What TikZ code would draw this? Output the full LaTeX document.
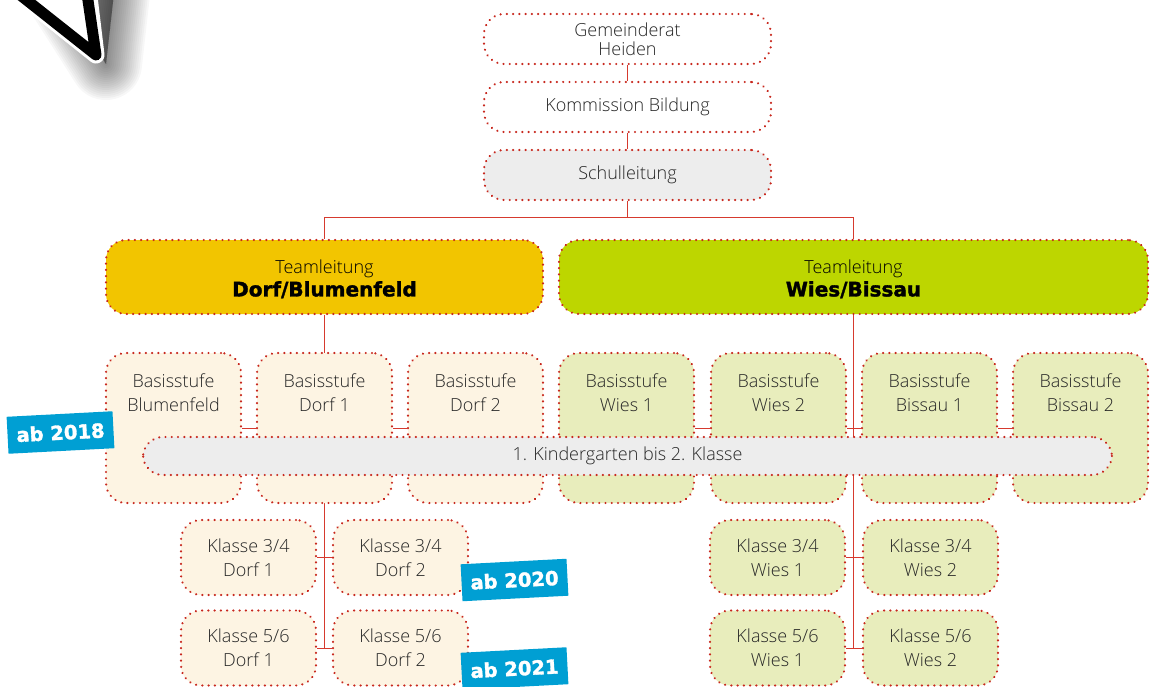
\documentclass[tikz,border=0pt]{standalone}
\usepackage{fontspec}
\setmainfont{Open Sans Light}
\newfontfamily\heavyfont[FakeBold=1.6]{DejaVu Sans Bold}
\usetikzlibrary{calc}
\definecolor{dotred}{HTML}{C8281E}
\definecolor{linered}{HTML}{D63A2E}
\definecolor{cream}{HTML}{FDF4E3}
\definecolor{palegreen}{HTML}{E8EDBC}
\definecolor{greybar}{HTML}{EDEDED}
\definecolor{teamyellow}{HTML}{F2C500}
\definecolor{teamgreen}{HTML}{BDD600}
\definecolor{tagblue}{HTML}{009FD3}
\definecolor{ink}{HTML}{262626}
\tikzset{
  x=1pt,y=-1pt,
  dotbox/.style={draw=dotred,line width=2.4pt,line cap=round,dash pattern=on 0.01pt off 6.25pt,rounded corners=20pt,inner sep=0pt,align=center,text=ink,font=\fontsize{18}{19}\selectfont},
  topbox/.style={dotbox,minimum width=287pt,minimum height=50pt},
  teambox/.style={dotbox,minimum height=74pt},
  basisbox/.style={dotbox,minimum width=135pt,minimum height=150pt},
  klassebox/.style={dotbox,minimum width=135pt,minimum height=75pt,font=\fontsize{18}{24}\selectfont},
  boxtext/.style={align=center,text=ink,inner sep=0pt,font=\fontsize{18}{24}\selectfont},
  conn/.style={draw=linered,line width=1pt},
  tag/.style={fill=tagblue,text=white,minimum width=106pt,minimum height=37pt,inner sep=0pt,rotate=3,font=\heavyfont\fontsize{19.5}{20}\selectfont},
}
\begin{document}
\begin{tikzpicture}
\useasboundingbox (0,0) rectangle (1153,687);
\begin{scope}
\clip (0,0) rectangle (1153,687);
\foreach \w in {72,68,64,60,56,52,48,44,40,36,32,28,24,20,16,12,8,4}{
  \fill[black,opacity=0.032,line join=round,draw=black,line width=\w pt]
   (40,-40) -- (106,64) -- (120,-60) -- cycle;
}
\draw[white,fill=white,line width=17pt,line join=round] (27,0) -- (96,55) -- (87,-20) -- (20,-20) -- cycle;
\draw[black,line width=11pt,line join=round] (0,-21) -- (96,55) -- (85,-20);
\end{scope}
\node[topbox,fill=white] (gr) at (627.5,39) {Gemeinderat\\Heiden};
\node[topbox,fill=white] (kb) at (627.5,107) {Kommission Bildung};
\node[topbox,fill=greybar] (sl) at (627.5,175) {Schulleitung};
\node[teambox,fill=teamyellow,minimum width=437pt] (dorf) at (324.5,277) {};
\node[teambox,fill=teamgreen,minimum width=589pt] (wies) at (853.5,277) {};
\draw[conn] (gr.south) -- (kb.north);
\draw[conn] (kb.south) -- (sl.north);
\coordinate (split) at ($(sl.south)+(0,16)$);
\draw[conn] (sl.south) -- (split);
\draw[conn] (split) -| (dorf.north);
\draw[conn] (split) -| (wies.north);
\coordinate (dorfend) at (324.5,648);
\coordinate (wiesend) at (853.5,648);
\draw[conn] (dorf.south) -- (dorfend);
\draw[conn] (wies.south) -- (wiesend);
\foreach \n/\x/\c in {ba/173.5/cream,bb/324.5/cream,bc/475.5/cream,bd/626.5/palegreen,be/778.5/palegreen,bf/929.5/palegreen,bg/1080.5/palegreen}{
  \node[basisbox,fill=\c] (\n) at (\x,428) {};
}
\draw[conn] (ba.east) -- (bb.west);
\draw[conn] (bb.east) -- (bc.west);
\draw[conn] (bd.east) -- (be.west);
\draw[conn] (be.east) -- (bf.west);
\draw[conn] (bf.east) -- (bg.west);
\node[boxtext] (tba) at (173.5,393) {Basisstufe\\Blumenfeld};
\node[boxtext] (tbb) at (324.5,393) {Basisstufe\\Dorf 1};
\node[boxtext] (tbc) at (475.5,393) {Basisstufe\\Dorf 2};
\node[boxtext] (tbd) at (626.5,393) {Basisstufe\\Wies 1};
\node[boxtext] (tbe) at (778.5,393) {Basisstufe\\Wies 2};
\node[boxtext] (tbf) at (929.5,393) {Basisstufe\\Bissau 1};
\node[boxtext] (tbg) at (1080.5,393) {Basisstufe\\Bissau 2};
\node[dotbox,fill=greybar,minimum width=969pt,minimum height=38pt] (bar) at (627.5,456) {1. Kindergarten bis 2. Klasse};
\node[klassebox,fill=cream] (ka) at (248.5,557.5) {Klasse 3/4\\Dorf 1};
\node[klassebox,fill=cream] (kb2) at (400.5,557.5) {Klasse 3/4\\Dorf 2};
\node[klassebox,fill=cream] (kc) at (248.5,648) {Klasse 5/6\\Dorf 1};
\node[klassebox,fill=cream] (kd) at (400.5,648) {Klasse 5/6\\Dorf 2};
\node[klassebox,fill=palegreen] (ke) at (777.5,557.5) {Klasse 3/4\\Wies 1};
\node[klassebox,fill=palegreen] (kf) at (930.5,557.5) {Klasse 3/4\\Wies 2};
\node[klassebox,fill=palegreen] (kg) at (777.5,648) {Klasse 5/6\\Wies 1};
\node[klassebox,fill=palegreen] (kh) at (930.5,648) {Klasse 5/6\\Wies 2};
\draw[conn] (ka.east) -- (kb2.west);
\draw[conn] (kc.east) -- (kd.west);
\draw[conn] (ke.east) -- (kf.west);
\draw[conn] (kg.east) -- (kh.west);
\node[boxtext,font=\fontsize{18}{23}\selectfont,black] (td) at (324.5,279) {Teamleitung\\{\heavyfont\fontsize{20}{23}\selectfont Dorf/Blumenfeld}};
\node[boxtext,font=\fontsize{18}{23}\selectfont,black] (tw) at (853.5,279) {Teamleitung\\{\heavyfont\fontsize{20}{23}\selectfont Wies/Bissau}};
\node[tag] (t18) at (60.5,432.5) {ab 2018};
\node[tag] (t20) at (514.5,580) {ab 2020};
\node[tag] (t21) at (514.5,668.5) {ab 2021};
\end{tikzpicture}
\end{document}
